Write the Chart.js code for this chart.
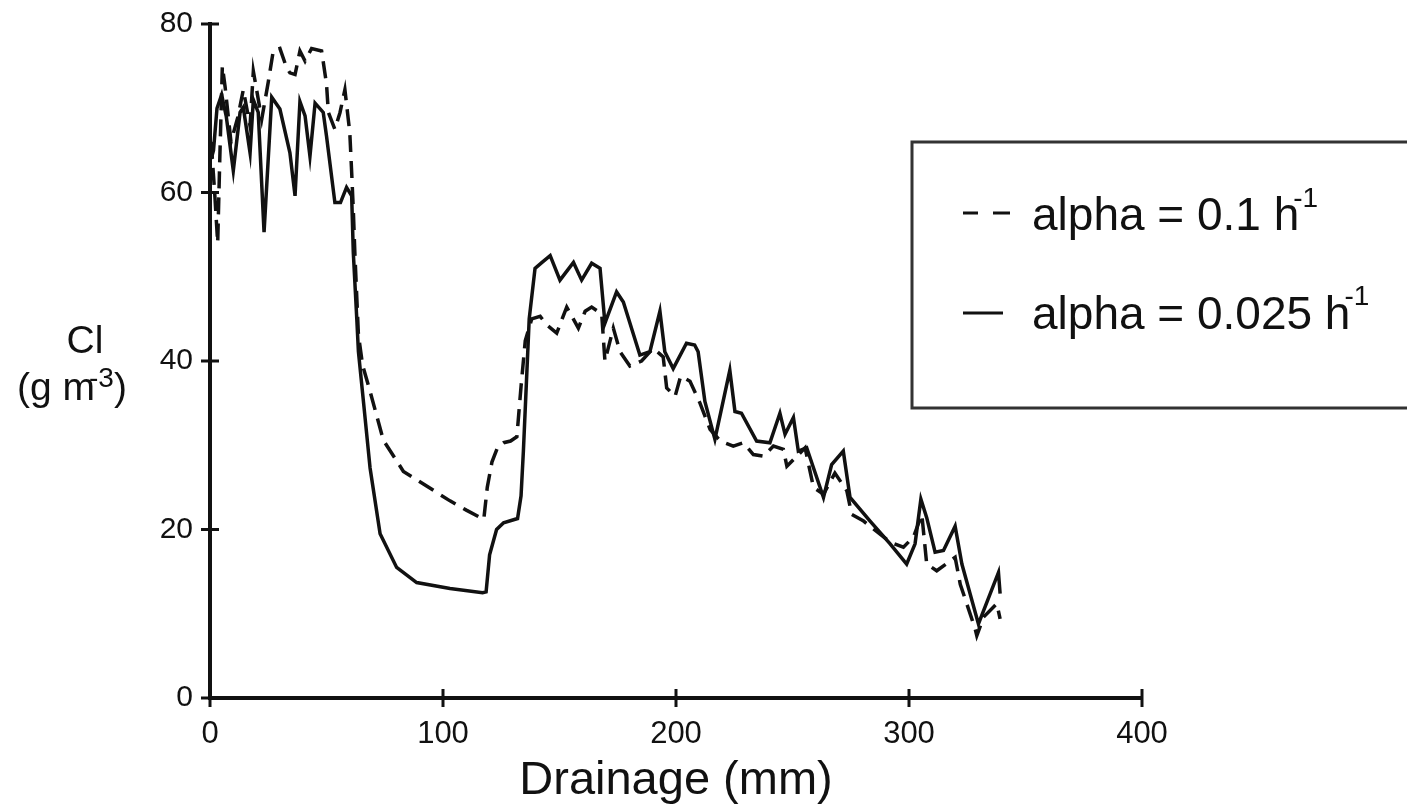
<!DOCTYPE html>
<html>
<head>
<meta charset="utf-8">
<script src="https://cdn.jsdelivr.net/npm/chart.js@4.4.1/dist/chart.umd.min.js"></script>
<style>
  html, body { margin: 0; padding: 0; background: #fff; }
  #wrap { width: 1407px; height: 811px; }
</style>
</head>
<body>
<div id="wrap"><canvas id="myChart"></canvas></div>
<script>
// alpha = 0.1 h-1 (dashed)
let xFast = [0.5, 2, 3.3, 4.2, 5.3, 6.5, 9, 12, 14.3, 17.2, 18.6, 20, 22.2, 25, 27.2, 30, 32.9, 34.3, 36.5, 38.6,
    40.8, 43.6, 47.9, 50, 50.8, 53.6, 55.8, 57.9, 60, 60.8, 61.5, 62.2, 63.7, 65.5, 68.7, 74.4, 83, 91.6, 103, 110,
    117.5, 119, 121, 123.5, 126, 129, 131.7, 133.5, 135.3, 138.1, 141.7, 144.5, 148.8, 153.1, 158.1, 161, 163.8, 168.1, 169.5, 173.1,
    176, 180.2, 185.2, 190.2, 194.5, 196, 199.6, 202, 206, 210.3, 214.6, 219, 224.6, 228.9, 233.2, 237.5, 241.8, 246.1, 247.6, 251.9,
    255.4, 259, 263.3, 268.2, 273.3, 275.4, 280.5, 291.9, 297.6, 301.9, 305.5, 307.6, 311.9, 319.8, 322, 328.4, 329.1, 332, 337.7, 339.1];
let yFast = [66, 60, 54, 64, 75, 72.5, 66, 69, 72.2, 67.9, 74.4, 72.2, 68.7, 73.1, 76.9, 77.1, 74.8, 74.2, 74.0, 76.8,
    75.6, 77.1, 76.8, 72.9, 69.5, 67.5, 69.5, 72.2, 67.1, 62.4, 58, 52.6, 43.1, 39.5, 36.4, 30.6, 26.9, 25.4, 23.4, 22.3,
    21.2, 25, 28, 29.8, 30.3, 30.5, 31, 37, 42.4, 45, 45.3, 44.3, 43.3, 46.4, 43.9, 45.9, 46.4, 45.6, 40, 43.9,
    41.1, 39.4, 40, 41.5, 40.5, 36.8, 35.8, 38.2, 37.6, 35.0, 31.9, 30.5, 29.9, 30.3, 28.9, 28.7, 29.9, 29.5, 27.5, 28.7,
    29.7, 25, 24.2, 26.7, 24.6, 21.8, 21.0, 18.5, 17.9, 19.1, 21.8, 15.9, 15.1, 16.7, 13.5, 8.2, 7.4, 9.6, 11.2, 9.4];

// alpha = 0.025 h-1 (solid)
let xSlow = [0.5, 1.5, 3, 5, 7, 10, 12.9, 14.3, 17.2, 18.6, 20.7, 23.2, 26.5, 30, 34.3, 36.5, 38.6, 40.8, 42.9, 45.1,
    48.6, 50, 53.6, 56, 58.6, 60.8, 61.5, 63, 63.7, 66, 68.7, 73, 80.1, 88.7, 103, 117, 118.5, 120, 123, 126,
    132, 133.5, 134.5, 137, 139.5, 142.5, 146, 150.2, 156, 159.5, 163.8, 167.4, 169.5, 174.5, 177.4, 184.5, 188.8, 193.1, 195.2, 198.8,
    204.5, 208, 209.5, 212.4, 216.7, 223.1, 225.3, 228.1, 234.6, 240.3, 244.6, 246.8, 250.4, 252.5, 256.1, 263.3, 266.8, 271.8, 274.7, 283.3,
    291.9, 299, 302.6, 305.1, 307.6, 311.2, 314.8, 319.8, 322.7, 329.8, 338.4, 339.1];
let ySlow = [64, 65, 70, 71.6, 69, 62.6, 69.5, 70.1, 64.7, 71.0, 69.5, 55.3, 71.3, 69.9, 64.7, 59.6, 70.8, 69.1, 64.3, 70.6,
    69.5, 66.7, 58.8, 58.8, 60.6, 59.6, 52.9, 45, 41.1, 34.8, 27.3, 19.5, 15.5, 13.7, 13.0, 12.5, 12.6, 17, 20, 20.8,
    21.3, 24, 29.3, 45, 51, 51.7, 52.5, 49.6, 51.7, 49.6, 51.6, 51, 44.5, 48.2, 47.0, 40.7, 41.1, 45.9, 41.1, 39.1,
    42.1, 41.9, 41.1, 35.2, 30.7, 38.9, 34.0, 33.8, 30.5, 30.3, 33.8, 31.3, 33.3, 29.3, 29.7, 23.8, 27.7, 29.3, 23.8, 21.0,
    18.3, 15.9, 18.3, 23.6, 21.4, 17.3, 17.5, 20.4, 15.9, 8.8, 14.9, 12.4];

const FONT = "'Liberation Sans', Arial, Helvetica, sans-serif";

function toPoints(xs, ys) {
    return xs.map((x, i) => ({ x: x, y: ys[i] }));
}

// text with a raised superscript after it
function supText(ctx, x, y, base, sup, size, supSize, rise, overlap) {
    ctx.font = size + "px " + FONT;
    ctx.fillText(base, x, y);
    let w = ctx.measureText(base).width;
    ctx.font = supSize + "px " + FONT;
    ctx.fillText(sup, x + w - overlap, y - rise);
    return x + w - overlap + ctx.measureText(sup).width;
}

const extras = {
    id: "extras",
    afterDraw(chart) {
        const ctx = chart.ctx;
        const xs = chart.scales.x;
        const ys = chart.scales.y;
        const area = chart.chartArea;
        ctx.save();
        ctx.strokeStyle = "#111";
        ctx.fillStyle = "#111";
        ctx.lineWidth = 3;

        // tick marks crossing the axes
        xs.ticks.forEach(t => {
            let px = xs.getPixelForValue(t.value);
            ctx.beginPath();
            ctx.moveTo(px, area.bottom - 9);
            ctx.lineTo(px, area.bottom + 9);
            ctx.stroke();
        });
        ys.ticks.forEach(t => {
            let py = ys.getPixelForValue(t.value);
            ctx.beginPath();
            ctx.moveTo(area.left - 9, py);
            ctx.lineTo(area.left + 9, py);
            ctx.stroke();
        });

        // y axis title, horizontal
        ctx.textBaseline = "alphabetic";
        ctx.textAlign = "center";
        ctx.font = "39px " + FONT;
        ctx.fillText("Cl", 85, 353);
        ctx.textAlign = "left";
        let ex = supText(ctx, 17, 400, "(g m", "-3", 39, 28, 13, 6);
        ctx.font = "39px " + FONT;
        ctx.fillText(")", ex, 400);

        // legend box
        ctx.strokeStyle = "#333";
        ctx.lineWidth = 3;
        ctx.strokeRect(912, 142, 510, 266);
        ctx.strokeStyle = "#111";
        ctx.beginPath();
        ctx.moveTo(963, 213); ctx.lineTo(978, 213);
        ctx.moveTo(993, 213); ctx.lineTo(1010, 213);
        ctx.moveTo(963, 313); ctx.lineTo(1003, 313);
        ctx.stroke();
        supText(ctx, 1032, 230, "alpha = 0.1 h", "-1", 46, 28, 23, 6);
        supText(ctx, 1032, 329, "alpha = 0.025 h", "-1", 46, 28, 24, 6);
        ctx.restore();
    }
};

let myChart = document.getElementById("myChart").getContext("2d");

let lineChart = new Chart(myChart, {
    type: "line",
    data: {
        datasets: [{
            label: "alpha = 0.1 h-1",
            data: toPoints(xFast, yFast),
            borderColor: "#111",
            borderWidth: 3.5,
            borderDash: [17, 9],
            pointRadius: 0,
            tension: 0,
            fill: false
        }, {
            label: "alpha = 0.025 h-1",
            data: toPoints(xSlow, ySlow),
            borderColor: "#111",
            borderWidth: 3.5,
            pointRadius: 0,
            tension: 0,
            fill: false
        }]
    },
    options: {
        responsive: true,
        maintainAspectRatio: false,
        animation: false,
        devicePixelRatio: 1,
        layout: {
            padding: { top: 21, right: 265, left: 0, bottom: 0 }
        },
        plugins: {
            legend: { display: false },
            tooltip: { enabled: false }
        },
        scales: {
            x: {
                type: "linear",
                min: 0,
                max: 400,
                ticks: {
                    stepSize: 100,
                    color: "#111",
                    font: { family: FONT, size: 31 },
                    padding: 10,
                    maxRotation: 0
                },
                grid: { display: false },
                border: { display: true, color: "#111", width: 4 },
                title: {
                    display: true,
                    text: "Drainage (mm)",
                    color: "#111",
                    font: { family: FONT, size: 47, lineHeight: 1.2 },
                    padding: { top: 0, bottom: 2 }
                },
                afterFit: s => { s.height = 113; }
            },
            y: {
                min: 0,
                max: 80,
                ticks: {
                    stepSize: 20,
                    color: "#111",
                    font: { family: FONT, size: 30, lineHeight: 1.0 },
                    padding: 9
                },
                grid: { display: false },
                border: { display: true, color: "#111", width: 4 },
                afterFit: s => { s.width = 210; }
            }
        }
    },
    plugins: [extras]
});
</script>
</body>
</html>
